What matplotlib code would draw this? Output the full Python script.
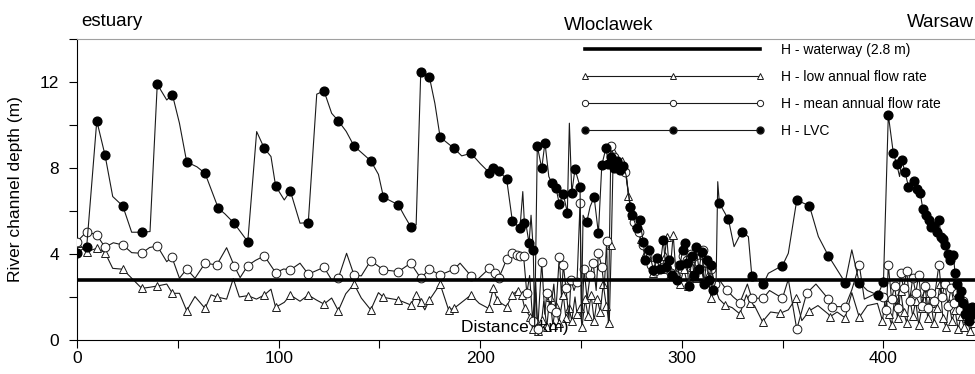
import numpy as np
import matplotlib
matplotlib.use("Agg")
import matplotlib.pyplot as plt
from matplotlib.lines import Line2D
from matplotlib.ticker import MultipleLocator

plt.rcParams['font.family'] = ['Liberation Sans', 'DejaVu Sans']

WATERWAY = 2.8

# H - LVC : distance (km), depth (m), 1 = surveyed point (marker)
lvc_km = [0, 4.8, 9.8, 13.9, 17.7, 22.7, 27.1, 32.1, 36.2, 39.8, 44.5, 47.3, 50.8, 54.4,
          59.5, 63.5, 70.1, 73.4, 77.9, 84.7, 89.1, 92.9, 96.2, 98.5, 102.8, 105.8, 110.6,
          114.7, 118.9, 122.5, 126.3, 129.6, 133.5, 137.4, 145.7, 149.5, 152.0, 159.4, 162.5,
          165.5, 168.2, 170.5, 174.8, 177.5, 180.1, 187.0, 190.8, 195.4, 200.0, 204.5, 206.5,
          209.3, 213.1, 215.9, 219.7, 221.1, 221.9, 223.0, 224.2, 225.2, 226.3, 227.0, 228.3,
          230.5, 231.3, 232.1, 234.0, 235.4, 237.6, 239.2, 241.2, 243.2, 244.2, 245.4, 247.0,
          249.5, 250.2, 251.0, 252.8, 254.5, 256.5, 258.6, 260.3, 262.4, 263.5, 265.0, 266.5,
          268.0, 269.5, 271.0, 272.5, 274.3, 275.5, 277.6, 279.0, 280.9, 281.8, 283.5, 285.9,
          287.5, 289.0, 290.8, 292.0, 293.5, 295.0, 297.5, 299.0, 300.5, 301.5, 302.5, 303.5,
          305.0, 306.0, 307.0, 308.5, 310.0, 311.0, 312.3, 313.5, 314.5, 315.6, 317.0, 317.8,
          318.6, 323.1, 325.9, 329.7, 333.0, 334.7, 340.4, 342.9, 349.9, 352.8, 357.0, 363.3,
          367.7, 372.7, 381.0, 384.3, 388.0, 392.0, 397.2, 400.0, 402.4, 404.9, 406.5, 408.0,
          409.1, 410.7, 412.4, 413.5, 414.9, 416.5, 418.2, 419.5, 421.0, 422.5, 423.6, 425.0,
          426.5, 427.6, 428.5, 429.5, 430.5, 431.8, 433.0, 434.7, 435.5, 436.5, 437.5, 438.5,
          439.4, 440.5, 441.5, 442.5, 443.8, 445.0]
lvc_h = [4.06, 4.34, 10.19, 8.59, 6.67, 6.23, 5.01, 5.01, 5.04, 11.89, 11.16, 11.41, 10.08, 8.28,
         8.05, 7.75, 6.12, 5.86, 5.43, 4.57, 9.69, 8.91, 8.53, 7.16, 6.51, 6.93, 5.43,
         5.46, 11.43, 11.58, 10.54, 10.19, 9.7, 9.02, 8.33, 7.7, 6.64, 6.28, 5.75,
         5.27, 5.35, 12.48, 12.22, 11.0, 9.43, 8.91, 8.56, 8.68, 8.2, 7.78, 7.98,
         7.86, 7.47, 5.55, 5.19, 6.90, 5.43, 5.2, 4.50, 5.8, 4.19, 0.6, 9.02,
         7.98, 8.6, 9.18, 7.6, 7.32, 7.05, 6.33, 6.78, 5.92, 10.08, 6.85, 7.94,
         7.13, 1.0, 5.8, 5.47, 6.2, 6.64, 4.96, 8.14, 8.94, 8.2, 8.5, 8.0,
         8.3, 7.9, 8.1, 7.6, 6.20, 5.8, 5.2, 5.6, 4.57, 3.72, 4.2, 3.26,
         3.8, 3.3, 4.65, 3.4, 3.72, 3.0, 2.79, 3.5, 4.2, 4.5, 3.6, 2.5,
         3.9, 3.0, 4.3, 3.3, 4.1, 2.6, 3.72, 2.8, 3.5, 2.33, 2.8, 7.36,
         6.36, 5.61, 4.34, 5.04, 4.8, 2.98, 2.6, 3.1, 3.46, 4.03, 6.51, 6.23,
         4.81, 3.91, 2.67, 4.19, 2.67, 2.3, 2.09, 2.71, 10.47, 8.68, 8.2, 7.6,
         8.37, 7.8, 7.13, 6.9, 7.4, 7.0, 6.85, 6.1, 5.8, 5.6, 5.27, 5.3,
         5.0, 5.6, 4.8, 4.7, 4.42, 4.0, 3.7, 3.95, 3.1, 2.6, 2.0, 2.3,
         1.7, 1.2, 1.5, 0.9, 1.55, 1.2]
lvc_mark = [1, 1, 1, 1, 0, 1, 0, 1, 0, 1, 0, 1, 0, 1,
            0, 1, 1, 0, 1, 1, 0, 1, 0, 1, 0, 1, 0,
            1, 0, 1, 0, 1, 0, 1, 1, 0, 1, 1, 0,
            1, 0, 1, 1, 0, 1, 1, 0, 1, 0, 1, 1,
            1, 1, 1, 1, 0, 1, 0, 1, 0, 1, 0, 1,
            1, 0, 1, 0, 1, 1, 1, 1, 1, 0, 1, 1,
            1, 0, 0, 1, 0, 1, 1, 1, 1, 1, 1, 1,
            1, 1, 1, 0, 1, 1, 1, 1, 1, 1, 1, 1,
            1, 1, 1, 1, 1, 1, 1, 1, 1, 1, 1, 1,
            1, 1, 1, 1, 1, 1, 1, 1, 1, 1, 0, 0,
            1, 1, 0, 1, 0, 1, 1, 0, 1, 0, 1, 1,
            0, 1, 1, 0, 1, 0, 1, 1, 1, 1, 1, 0,
            1, 1, 1, 0, 1, 1, 1, 1, 1, 1, 1, 1,
            1, 1, 1, 1, 1, 1, 1, 1, 1, 1, 1, 1,
            1, 1, 1, 1, 1, 1]

# H - mean annual flow rate
mean_km = [0, 4.8, 9.8, 13.9, 18.0, 22.7, 27.1, 32.1, 36.0, 39.8, 44.5, 47.0, 50.8, 54.4,
           58.5, 63.5, 69.3, 74.2, 77.9, 80.9, 84.7, 88.5, 92.9, 98.5, 102.5, 105.8, 110.6,
           114.7, 122.5, 126.3, 129.6, 133.7, 137.4, 141.0, 145.7, 152.0, 159.4, 165.5, 170.5,
           174.8, 180.1, 187.0, 190.0, 195.4, 198.5, 204.5, 207.3, 209.3, 213.1, 215.9, 218.0,
           219.7, 221.5, 223.1, 224.5, 226.0, 227.5, 228.5, 230.5, 232.0, 233.0, 235.0, 236.5,
           237.5, 239.2, 240.3, 241.2, 242.5, 244.0, 245.0, 246.5, 248.0, 249.5, 250.3, 251.5,
           253.0, 254.5, 256.0, 257.5, 258.6, 260.3, 261.5, 262.7, 263.5, 264.8, 266.5, 268.0,
           270.0, 272.0, 274.5, 276.5, 278.5, 280.5, 282.5, 284.5, 286.5, 288.5, 290.5, 292.5,
           294.5, 296.5, 298.5, 300.5, 302.5, 304.5, 306.5, 308.5, 310.5, 312.5, 314.5, 316.5,
           318.5, 322.2, 325.5, 328.8, 332.5, 334.7, 340.4, 343.5, 349.9, 352.8, 357.0, 361.9,
           366.5, 372.7, 374.3, 381.0, 384.3, 388.0, 390.5, 397.0, 400.0, 401.5, 402.4, 404.0,
           405.5, 407.0, 408.5, 410.0, 411.5, 413.0, 414.5, 416.0, 417.5, 419.0, 420.5, 422.0,
           423.5, 425.0, 427.5, 429.0, 430.5, 432.0, 433.5, 435.0, 436.5, 438.0, 439.5, 441.0,
           442.5, 444.0, 445.0]
mean_h = [4.57, 5.04, 4.88, 4.31, 4.52, 4.42, 4.06, 4.03, 4.3, 4.37, 3.64, 3.87, 2.87, 3.30,
          2.87, 3.57, 3.49, 4.29, 3.46, 2.9, 3.46, 3.7, 3.91, 3.13, 3.3, 3.26, 3.57,
          3.06, 3.38, 2.79, 2.87, 4.03, 3.02, 2.98, 3.69, 3.26, 3.18, 3.57, 2.87,
          3.29, 3.02, 3.29, 3.57, 2.98, 2.8, 3.33, 3.1, 2.9, 3.75, 4.06, 3.95,
          3.9, 3.9, 2.17, 3.0, 0.9, 2.7, 0.5, 3.64, 1.2, 2.2, 1.5, 2.6,
          1.3, 3.88, 2.0, 3.5, 2.4, 1.0, 2.8, 2.3, 2.7, 6.36, 0.8, 3.3,
          1.9, 3.0, 3.6, 2.3, 4.03, 3.4, 2.4, 4.6, 0.8, 9.0, 8.5, 8.2,
          8.0, 7.8, 6.2, 5.5, 5.0, 4.4, 3.9, 3.5, 3.2, 3.6, 3.4, 3.3,
          3.1, 3.0, 3.5, 3.9, 3.7, 4.0, 3.8, 3.6, 4.2, 3.6, 3.3, 2.6,
          2.8, 2.33, 2.0, 1.74, 2.6, 1.94, 1.94, 2.3, 1.94, 2.82, 0.5, 2.17,
          2.6, 1.9, 1.55, 1.55, 2.33, 3.49, 1.9, 2.2, 2.0, 1.4, 3.49, 1.9,
          2.5, 1.5, 3.1, 2.4, 3.2, 1.8, 2.9, 2.2, 3.0, 1.6, 2.5, 1.5,
          2.2, 1.8, 3.49, 2.0, 2.6, 1.6, 2.4, 1.7, 2.2, 1.4, 1.8, 1.1,
          1.5, 1.0, 1.3]
mean_mark = [1, 1, 1, 1, 0, 1, 0, 1, 0, 1, 0, 1, 0, 1,
             0, 1, 1, 0, 1, 0, 1, 0, 1, 1, 0, 1, 0,
             1, 1, 0, 1, 0, 1, 0, 1, 1, 1, 1, 1,
             1, 1, 1, 0, 1, 0, 1, 1, 1, 1, 1, 1,
             1, 1, 1, 0, 1, 0, 1, 1, 0, 1, 1, 0,
             1, 1, 0, 1, 1, 0, 1, 0, 1, 1, 0, 1,
             0, 1, 1, 0, 1, 1, 0, 1, 0, 1, 1, 1,
             1, 1, 1, 1, 1, 1, 1, 1, 1, 1, 1, 1,
             1, 1, 1, 1, 1, 1, 1, 1, 1, 1, 1, 1,
             0, 1, 0, 1, 0, 1, 1, 0, 1, 0, 1, 1,
             0, 1, 1, 1, 0, 1, 0, 0, 1, 1, 1, 1,
             1, 1, 1, 1, 1, 1, 1, 1, 1, 1, 1, 1,
             1, 1, 1, 1, 1, 1, 1, 1, 1, 1, 1, 1,
             1, 1, 1]

# H - low annual flow rate
low_km = [0, 4.8, 9.8, 13.9, 17.7, 22.7, 27.1, 32.1, 36.0, 39.8, 44.5, 47.3, 50.8, 54.4,
          58.5, 63.5, 66.5, 69.3, 74.2, 77.5, 80.5, 84.7, 89.0, 92.9, 96.2, 98.5, 102.8,
          105.8, 110.6, 114.7, 118.9, 122.5, 126.3, 129.6, 133.3, 137.4, 141.0, 145.7, 149.5,
          152.0, 159.4, 165.5, 168.2, 170.5, 172.5, 174.8, 180.1, 184.3, 187.0, 195.4, 199.5,
          204.1, 206.5, 208.5, 210.5, 213.1, 215.9, 218.5, 220.5, 222.0, 224.7, 226.0, 227.5,
          228.5, 230.5, 231.5, 233.0, 234.5, 236.0, 237.5, 239.0, 241.2, 242.5, 244.0, 245.4,
          247.0, 248.0, 249.5, 250.5, 252.0, 253.5, 255.0, 256.5, 258.0, 259.5, 261.0, 262.5,
          264.0, 265.0, 266.0, 267.5, 269.0, 270.5, 272.0, 273.5, 275.5, 277.5, 279.5, 281.5,
          283.5, 285.5, 287.5, 289.5, 291.5, 292.5, 294.0, 295.7, 297.0, 299.0, 301.0, 303.0,
          305.0, 307.0, 309.0, 311.0, 313.0, 314.5, 316.5, 318.5, 321.4, 325.0, 328.8, 332.0,
          333.8, 336.0, 340.0, 344.0, 348.7, 352.8, 356.6, 359.5, 363.3, 367.5, 372.7, 373.5,
          377.0, 381.0, 384.3, 388.0, 392.0, 397.0, 399.5, 401.0, 402.5, 404.0, 405.5, 407.0,
          408.5, 410.0, 411.5, 413.0, 414.5, 416.0, 417.5, 419.0, 420.5, 422.0, 423.5, 425.0,
          426.5, 428.0, 429.5, 431.0, 432.5, 434.0, 435.5, 437.0, 438.5, 440.0, 441.5, 443.0,
          445.0]
low_h = [4.52, 4.11, 4.26, 4.06, 3.33, 3.29, 2.87, 2.40, 2.45, 2.51, 2.6, 2.17, 2.17, 1.36,
         2.02, 1.47, 2.1, 2.0, 1.9, 2.85, 2.0, 2.06, 1.9, 2.09, 2.36, 1.52, 1.75,
         2.09, 1.8, 2.09, 1.85, 1.67, 1.95, 1.36, 2.15, 2.6, 1.95, 1.4, 2.2,
         1.98, 1.86, 1.63, 2.1, 1.75, 1.4, 1.86, 2.6, 1.4, 1.47, 2.09, 1.7,
         1.47, 2.4, 1.85, 1.7, 1.55, 2.1, 2.3, 2.1, 1.5, 1.08, 0.5, 2.2,
         0.4, 0.93, 1.8, 0.6, 2.0, 0.7, 1.6, 0.8, 2.1, 1.0, 1.5, 0.9,
         2.0, 1.2, 1.5, 0.6, 1.9, 1.1, 2.1, 0.9, 1.9, 1.3, 2.6, 1.6,
         0.8, 4.4, 8.8, 8.4, 8.2, 8.3, 8.0, 6.7, 5.8, 5.4, 4.7, 4.0,
         3.7, 3.1, 3.4, 3.3, 3.9, 4.8, 3.0, 4.9, 3.2, 2.6, 3.3, 2.5,
         3.4, 2.9, 3.6, 2.7, 3.0, 1.94, 2.4, 1.9, 1.63, 1.5, 1.21, 2.1,
         1.7, 1.6, 0.85, 1.3, 1.24, 1.4, 1.94, 0.9, 1.36, 1.6, 1.2, 1.08,
         1.3, 1.03, 2.2, 1.05, 1.6, 1.7, 0.9, 2.0, 1.2, 0.7, 1.9, 1.0,
         2.3, 1.3, 0.8, 2.0, 1.1, 1.8, 0.7, 1.5, 2.2, 1.0, 1.7, 0.8,
         1.5, 2.6, 1.0, 0.6, 1.7, 0.9, 1.4, 0.5, 1.1, 0.6, 1.0, 0.4,
         0.8]
low_mark = [1, 1, 1, 1, 0, 1, 0, 1, 0, 1, 0, 1, 0, 1,
            0, 1, 0, 1, 0, 0, 0, 1, 0, 1, 0, 1, 0,
            1, 0, 1, 0, 1, 0, 1, 0, 1, 0, 1, 0,
            1, 1, 1, 1, 1, 0, 1, 1, 1, 1, 1, 0,
            1, 1, 1, 0, 1, 1, 1, 1, 1, 1, 1, 0,
            1, 1, 0, 1, 1, 1, 1, 1, 1, 1, 1, 1,
            0, 1, 1, 1, 1, 1, 1, 1, 1, 1, 1, 1,
            1, 1, 1, 1, 1, 1, 1, 1, 1, 1, 1, 1,
            1, 1, 1, 1, 1, 1, 1, 1, 1, 1, 1, 1,
            1, 1, 1, 1, 1, 1, 0, 0, 1, 0, 1, 0,
            1, 0, 1, 0, 1, 0, 1, 0, 1, 0, 0, 1,
            0, 1, 0, 1, 0, 0, 1, 1, 1, 1, 1, 1,
            1, 1, 1, 1, 1, 1, 1, 1, 1, 1, 1, 1,
            1, 1, 1, 1, 1, 1, 1, 1, 1, 1, 1, 1,
            1]

places = ["estuary", "Wloclawek", "Warsaw"]
place_km = [0, 263.5, 445]

fig = plt.figure(figsize=(9.75, 3.74), dpi=100)
ax = fig.add_axes([0.079, 0.091, 0.921, 0.805])


def draw(km, h, mark, **kw):
    km = np.asarray(km)
    h = np.asarray(h)
    idx = np.flatnonzero(mark)
    ax.plot(km, h, color='#1a1a1a', lw=0.8, markevery=list(idx), **kw)


draw(low_km, low_h, low_mark, marker='^', ms=5.5, mfc='white', mec='#1a1a1a', mew=0.7, zorder=3)
draw(mean_km, mean_h, mean_mark, marker='o', ms=6.3, mfc='white', mec='#1a1a1a', mew=0.7, zorder=4)
ax.axhline(WATERWAY, color='black', lw=2.6, zorder=5)
draw(lvc_km, lvc_h, lvc_mark, marker='o', ms=6.3, mfc='black', mec='black', zorder=6)

ax.set_xlim(0, 445.4)
ax.set_ylim(0, 14)
ax.xaxis.set_major_locator(MultipleLocator(100))
ax.xaxis.set_minor_locator(MultipleLocator(50))
ax.yaxis.set_major_locator(MultipleLocator(4))
ax.yaxis.set_minor_locator(MultipleLocator(2))
ax.tick_params(which='both', direction='out', length=5.8, width=0.8, labelsize=12.5)
ax.tick_params(axis='x', pad=2)
ax.tick_params(axis='y', pad=7)
ax.spines['right'].set_visible(False)
ax.spines['top'].set_color('#a0a0a0')
ax.set_ylabel('River channel depth (m)', fontsize=12.5, labelpad=12)
ax.text(217, 0.25, 'Distance (km)', ha='center', va='bottom', fontsize=12.5)

ax.text(2, 14.4, places[0], ha='left', va='bottom', fontsize=13.5)
ax.text(place_km[1], 14.25, places[1], ha='center', va='bottom', fontsize=13.5)
ax.text(place_km[2], 14.35, places[2], ha='right', va='bottom', fontsize=13.5)

handles = [
    Line2D([], [], color='black', lw=2.6),
    Line2D([], [], color='#1a1a1a', lw=0.8, marker='^', ms=4, mfc='white', mew=0.7),
    Line2D([], [], color='#1a1a1a', lw=0.8, marker='o', ms=4.5, mfc='white', mew=0.7),
    Line2D([], [], color='#1a1a1a', lw=0.8, marker='o', ms=5, mfc='black'),
]
labels = ['H - waterway (2.8 m)', 'H - low annual flow rate',
          'H - mean annual flow rate', 'H - LVC']
ax.legend(handles, labels, loc='upper left', bbox_to_anchor=(0.5615, 0.988), frameon=False,
          borderaxespad=0, borderpad=0, numpoints=3, handlelength=13.2,
          handletextpad=1.2, fontsize=10, labelspacing=0.95)

fig.savefig('out.png', dpi=100)
